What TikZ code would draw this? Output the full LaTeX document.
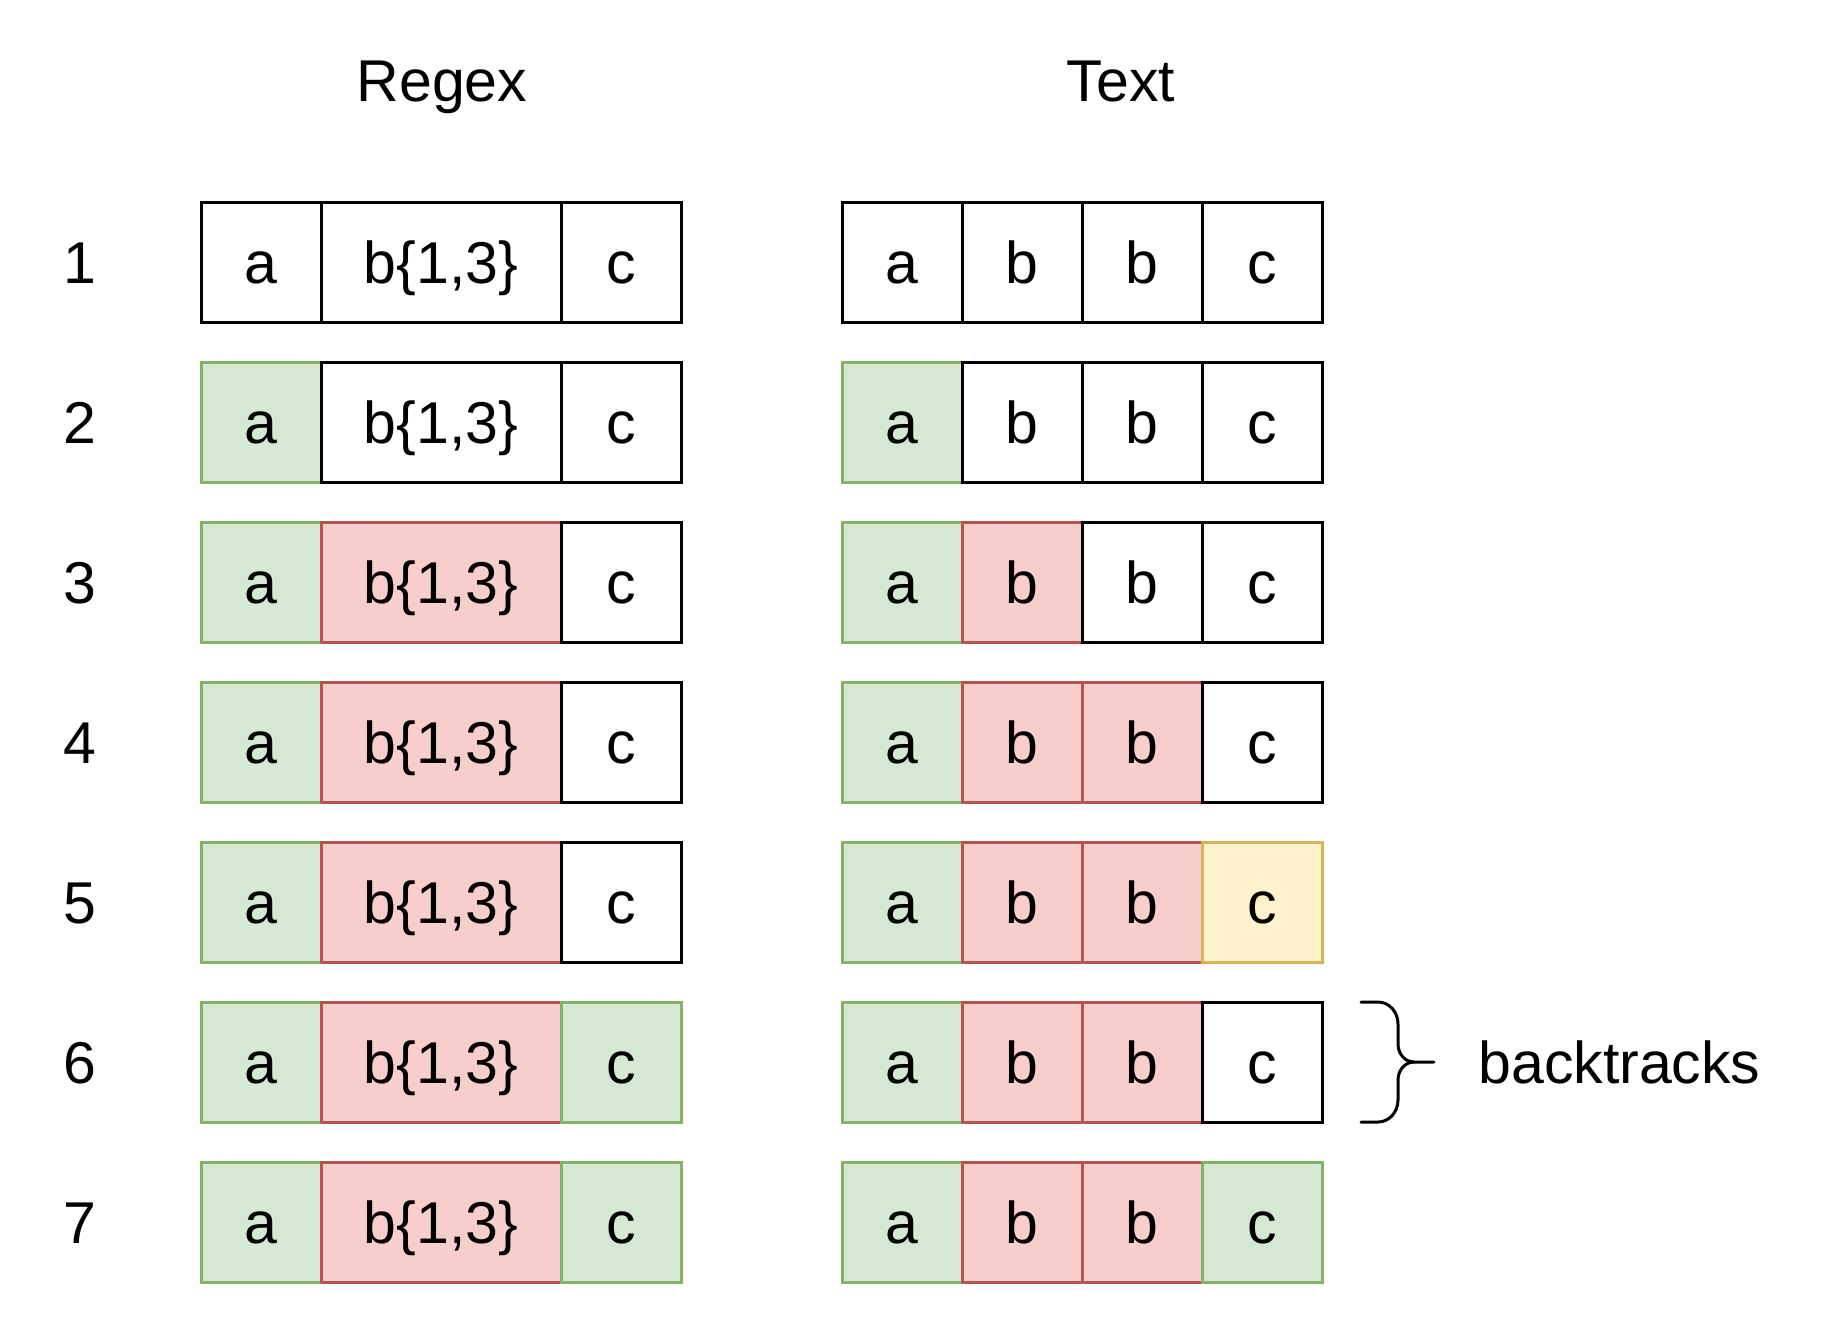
\documentclass[tikz,border=0pt]{standalone}
\usepackage{fontspec}
\setmainfont{Liberation Sans}
\usepackage{xcolor}
\usepackage{tikz}
\usetikzlibrary{positioning}
\definecolor{okfill}{HTML}{D5E8D4}
\definecolor{okline}{HTML}{82B366}
\definecolor{badfill}{HTML}{F8CECC}
\definecolor{badline}{HTML}{B85450}
\definecolor{tryfill}{HTML}{FFF2CC}
\definecolor{tryline}{HTML}{D6B656}
\newcommand{\bigtext}{\fontsize{29.5}{34}\selectfont}

\tikzset{
  cell/.style={draw, line width=1.5pt, minimum width=60pt, minimum height=60pt,
               inner sep=0pt, outer sep=0pt, font=\bigtext,
               text height=21pt, text depth=0pt},
  idle/.style={cell, draw=black, fill=white},
  okcell/.style={cell, draw=okline, fill=okfill},
  badcell/.style={cell, draw=badline, fill=badfill},
  trycell/.style={cell, draw=tryline, fill=tryfill},
  wide/.style={minimum width=120pt},
  label/.style={font=\bigtext, inner sep=0pt, text height=21pt, text depth=0pt}
}

\begin{document}
\begin{tikzpicture}[x=0.5pt, y=-0.5pt]
  \useasboundingbox (0,0) rectangle (1844,1324);

  % column titles
  \node[label] (regextitle) at (442,80) {Regex};
  \node[label] (texttitle) at (1121,80) {Text};

  % one row per step
  \foreach \row/\ra/\rb/\rc/\ta/\tb/\tc/\td in {
      1/idle/idle/idle/idle/idle/idle/idle,
      2/okcell/idle/idle/okcell/idle/idle/idle,
      3/okcell/badcell/idle/okcell/badcell/idle/idle,
      4/okcell/badcell/idle/okcell/badcell/badcell/idle,
      5/okcell/badcell/idle/okcell/badcell/badcell/trycell,
      6/okcell/badcell/okcell/okcell/badcell/badcell/idle,
      7/okcell/badcell/okcell/okcell/badcell/badcell/okcell}{
    \node[label] (num\row) at (80,{102+160*\row}) {\row};
    % regex cells
    \node[\ra, anchor=west] (re\row a) at (201,{102+160*\row}) {a};
    \node[\rb, wide, right=0pt of re\row a] (re\row b) {b\{1,3\}};
    \node[\rc, right=0pt of re\row b] (re\row c) {c};
    % text cells
    \node[\ta, anchor=west] (tx\row a) at (842,{102+160*\row}) {a};
    \node[\tb, right=0pt of tx\row a] (tx\row b) {b};
    \node[\tc, right=0pt of tx\row b] (tx\row c) {b};
    \node[\td, right=0pt of tx\row c] (tx\row d) {c};
  }

  % brace next to step 6
  \node[label, anchor=west] (backlabel) at (1478,1062) {backtracks};
  \draw[line width=1.5pt, line cap=round]
    (1361,1002) -- (1378,1002) to[out=0, in=90] (1398,1024) -- (1398,1044)
    to[out=-90, in=180] (1414,1062) -- (1434,1062);
  \draw[line width=1.5pt, line cap=round]
    (1361,1122) -- (1378,1122) to[out=0, in=-90] (1398,1100) -- (1398,1080)
    to[out=90, in=180] (1414,1062);
\end{tikzpicture}
\end{document}
